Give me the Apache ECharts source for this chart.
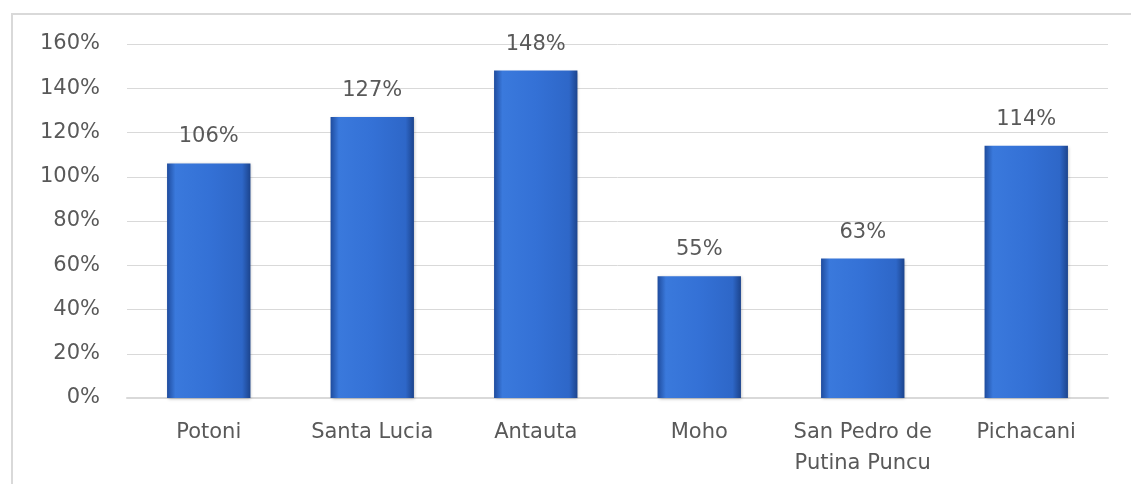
<!DOCTYPE html>
<html>
<head>
<meta charset="utf-8">
<script src="https://cdn.jsdelivr.net/npm/echarts@6/dist/echarts.min.js"></script>
<style>
  html, body { margin: 0; padding: 0; background: #fff; }
  #chart { width: 1131px; height: 484px; }
</style>
</head>
<body>
<div id="chart"></div>
<script>
  // data
  var categories = ['Potoni', 'Santa Lucia', 'Antauta', 'Moho', 'San Pedro de\nPutina Puncu', 'Pichacani'];
  var values = [106, 127, 148, 55, 63, 114];
  var yTicks = [0, 20, 40, 60, 80, 100, 120, 140, 160];

  var textColor = '#595959';
  var font = '"DejaVu Sans", sans-serif';

  var chart = echarts.init(document.getElementById('chart'));

  /*bar fill: darker edges, lighter middle*/
  var barFill = new echarts.graphic.LinearGradient(0, 0, 1, 0, [
    {offset: 0, color: '#1f4c9e'},
    {offset: 0.1, color: '#3a79dc'},
    {offset: 0.5, color: '#3471d6'},
    {offset: 0.9, color: '#2e67c8'},
    {offset: 1, color: '#1c448d'}
  ]);

  chart.setOption({
    animation: false,
    graphic: [{
      type: 'rect',
      shape: {x: 12, y: 14, width: 1140, height: 500},
      style: {fill: 'none', stroke: '#d9d9d9', lineWidth: 2},
      silent: true
    }],
    grid: {
      left: 127,
      right: 23,
      top: 44,
      bottom: 86
    },
    xAxis: {
      type: 'category',
      data: categories,
      axisLine: {lineStyle: {color: '#d9d9d9', width: 2}},
      axisTick: {show: false},
      axisLabel: {
        color: textColor,
        fontFamily: font,
        fontSize: 21,
        lineHeight: 31,
        margin: 19,
        interval: 0
      }
    },
    yAxis: {
      type: 'value',
      min: yTicks[0],
      max: yTicks[yTicks.length - 1],
      interval: 20,
      axisLine: {show: false},
      axisTick: {show: false},
      axisLabel: {
        color: textColor,
        fontFamily: font,
        fontSize: 21,
        margin: 27,
        formatter: '{value}%'
      },
      splitLine: {lineStyle: {color: '#d9d9d9', width: 1}}
    },
    series: [{
      type: 'bar',
      data: values,
      barWidth: '51%',
      itemStyle: {
        color: barFill,
        shadowColor: 'rgba(0,0,0,0.25)',
        shadowBlur: 3,
        shadowOffsetX: 1,
        shadowOffsetY: 1
      },
      label: {
        show: true,
        position: 'top',
        distance: 16,
        color: textColor,
        fontFamily: font,
        fontSize: 21,
        formatter: '{c}%'
      }
    }]
  });
</script>
</body>
</html>
